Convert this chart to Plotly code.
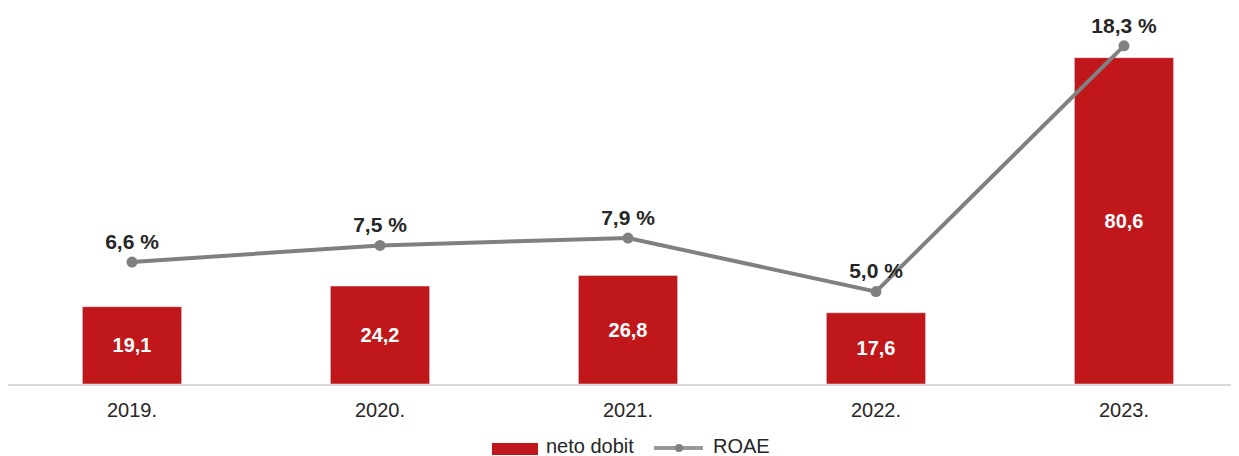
import plotly.graph_objects as go

years = ["2019.", "2020.", "2021.", "2022.", "2023."]
neto_dobit = [19.1, 24.2, 26.8, 17.6, 80.6]
roae = [6.6, 7.5, 7.9, 5.0, 18.3]

bar_labels = [f"{v:.1f}".replace(".", ",") for v in neto_dobit]
roae_labels = [f"{v:.1f} %".replace(".", ",") for v in roae]

FONT = "Liberation Sans, Arial"
RED = "#C0171B"
GRAY = "#808080"

fig = go.Figure()

fig.add_trace(go.Bar(
    x=years, y=neto_dobit, name="neto dobit",
    marker=dict(color=RED), width=0.4,
    text=bar_labels, textposition="inside", insidetextanchor="middle",
    textfont=dict(color="white", size=20, family=FONT, weight="bold"),
    textangle=0, showlegend=False,
))

fig.add_trace(go.Scatter(
    x=years, y=roae, name="ROAE", yaxis="y2",
    mode="lines+markers+text",
    line=dict(color=GRAY, width=4),
    marker=dict(color=GRAY, size=11),
    text=roae_labels, textposition="top center",
    textfont=dict(color="#262626", size=21, family=FONT, weight="bold"),
    cliponaxis=False, showlegend=False,
))

# legend drawn by hand (wide bar swatch like the original)
shapes = [
    dict(type="rect", xref="paper", yref="paper", x0=0.3906, x1=0.4278, y0=-0.1951, y1=-0.1621,
         fillcolor=RED, line=dict(width=0)),
    dict(type="line", xref="paper", yref="paper", x0=0.5214, x1=0.5609, y0=-0.1758, y1=-0.1758,
         line=dict(color="#999999", width=4)),
    dict(type="circle", xref="paper", yref="paper", x0=0.5384, x1=0.5448, y0=-0.1868, y1=-0.1648,
         fillcolor=GRAY, line=dict(width=0)),
]
annotations = [
    dict(text="neto dobit", xref="paper", yref="paper", x=0.4336, y=-0.1703,
         xanchor="left", yanchor="middle", showarrow=False, borderpad=0,
         font=dict(size=20, color="#262626")),
    dict(text="ROAE", xref="paper", yref="paper", x=0.5680, y=-0.1703,
         xanchor="left", yanchor="middle", showarrow=False, borderpad=0,
         font=dict(size=20, color="#262626")),
]

fig.update_layout(
    width=1239, height=456,
    margin=dict(l=0, r=0, t=12, b=80),
    paper_bgcolor="white", plot_bgcolor="white",
    font=dict(family=FONT, size=20, color="#262626"),
    showlegend=False,
    shapes=shapes, annotations=annotations,
    xaxis=dict(range=[-0.5, 4.496], showgrid=False, showline=True, linecolor="#d9d9d9",
               linewidth=2, ticks="", ticklabelstandoff=7,
               tickfont=dict(size=20, color="#262626")),
    yaxis=dict(range=[0, 89.9], visible=False, showgrid=False),
    yaxis2=dict(range=[0, 19.7], overlaying="y", visible=False, showgrid=False),
)

fig.write_html("out.html")
